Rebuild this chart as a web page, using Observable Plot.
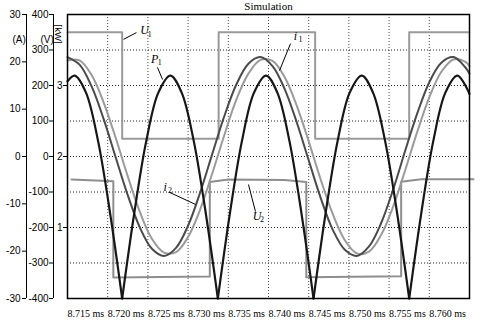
<!DOCTYPE html>
<html><head><meta charset="utf-8">
<script src="https://cdn.jsdelivr.net/npm/d3@7"></script>
<script src="https://cdn.jsdelivr.net/npm/@observablehq/plot@0.6"></script>
<style>body{margin:0;background:#fff} #chart svg{display:block}</style>
</head><body><div id="chart"></div>
<script>
// time grid (ms) for the two currents
const tGrid = [8.715, 8.7165, 8.718, 8.7195, 8.721, 8.7225, 8.724, 8.7255, 8.727, 8.7285,
  8.73, 8.7315, 8.733, 8.7345, 8.736, 8.7375, 8.739, 8.7405, 8.742, 8.7435,
  8.745, 8.7465, 8.748, 8.7495, 8.751, 8.7525, 8.754, 8.7555, 8.757, 8.7585,
  8.76, 8.7615, 8.763, 8.7645, 8.765];
// i1 (A), light gray
const i1Amps = [20.3, 20.3, 17.2, 11.4, 3.9, -4.2, -11.7, -17.4, -20.3, -20.2,
  -17.0, -11.2, -3.6, 4.5, 12.0, 17.5, 20.4, 20.2, 16.8, 10.8,
  3.2, -4.9, -12.2, -17.7, -20.5, -20.1, -16.6, -10.6, -2.9, 5.2,
  12.5, 17.9, 20.5, 20.0, 19.1];
// i2 (A), dark gray
const i2Amps = [21.0, 19.4, 14.8, 7.9, -0.2, -8.2, -15.0, -19.5, -21.0, -19.3,
  -14.6, -7.6, 0.5, 8.5, 15.2, 19.6, 21.0, 19.1, 14.3, 7.3,
  -0.8, -8.8, -15.5, -19.7, -21.0, -19.0, -14.1, -7.0, 1.2, 9.1,
  15.7, 19.8, 21.0, 18.8, 17.5];
// P1 (kW), black, drawn arch by arch
const p1Times = [8.715, 8.7159, 8.7173, 8.7188, 8.7203, 8.7218,
  8.7218, 8.7233, 8.7248, 8.7263, 8.7278, 8.7292, 8.7307, 8.7322, 8.7337,
  8.7337, 8.7352, 8.7367, 8.7382, 8.7397, 8.7411, 8.7426, 8.7441, 8.7456,
  8.7456, 8.7471, 8.7486, 8.7501, 8.7516, 8.7530, 8.7545, 8.7560, 8.7575,
  8.7575, 8.7590, 8.7605, 8.7620, 8.7635, 8.7650];
const p1Kw = [3.06, 3.14, 2.90, 2.22, 1.20, 0,
  0, 1.20, 2.22, 2.90, 3.14, 2.90, 2.22, 1.20, 0,
  0, 1.20, 2.22, 2.90, 3.14, 2.90, 2.22, 1.20, 0,
  0, 1.20, 2.22, 2.90, 3.14, 2.90, 2.22, 1.20, 0,
  0, 1.20, 2.22, 2.90, 3.14, 2.88];
const p1Arch = [0,0,0,0,0,0, 1,1,1,1,1,1,1,1,1, 2,2,2,2,2,2,2,2,2, 3,3,3,3,3,3,3,3,3, 4,4,4,4,4,4];
// U1 (V)
const u1Times = [8.715, 8.7218, 8.7218, 8.7338, 8.7338, 8.7458, 8.7458, 8.7575, 8.7575, 8.765];
const u1Volts = [350, 350, 50, 50, 350, 350, 50, 50, 350, 350];
// U2 (V)
const u2Times = [8.7155, 8.7207, 8.7207, 8.7327, 8.7327, 8.7350, 8.7420, 8.7447, 8.7447, 8.7565, 8.7565, 8.7590, 8.7655];
const u2Volts = [-65, -70, -341, -338, -72, -65, -66, -72, -340, -337, -71, -64, -64];
// ticks
const xTicks = [8.715, 8.72, 8.725, 8.73, 8.735, 8.74, 8.745, 8.75, 8.755, 8.76];
const aTicks = [30, 20, 10, 0, -10, -20, -30];
const vTicks = [400, 300, 200, 100, 0, -100, -200, -300, -400];
const kwTicks = [3, 2, 1];
const gridVolts = [300, 200, 100, 0, -100, -200, -300];
// annotations (t in ms, value in V units)
const labelLetters = ["U", "P", "i", "i", "U"];
const labelSubs = ["1", "1", "1", "2", "2"];
const labelTimes = [8.7246, 8.72585, 8.74336, 8.72714, 8.73858];
const labelValues = [355, 275, 340, -85, -167];
const pointerT1 = [8.72358, 8.72619, 8.74274, 8.72769, 8.73751];
const pointerV1 = [349, 251, 318, -101, -79];
const pointerT2 = [8.72197, 8.72682, 8.74137, 8.73092, 8.73838];
const pointerV2 = [330, 217, 242, -135, -155];

const A2V = a => a * 400 / 30;
const KW2V = k => (k - 2) * 200;
const fmt = n => n < 0 ? "-" + (-n) : String(n);

const i1Data = tGrid.map((t, k) => ({t, v: A2V(i1Amps[k])}));
const i2Data = tGrid.map((t, k) => ({t, v: A2V(i2Amps[k])}));
const p1Data = p1Times.map((t, k) => ({t, v: KW2V(p1Kw[k]), arch: p1Arch[k]}));
const u1Data = u1Times.map((t, k) => ({t, v: u1Volts[k]}));
const u2Data = u2Times.map((t, k) => ({t, v: u2Volts[k]}));
const labels = labelLetters.map((name, k) => ({name, sub: labelSubs[k], t: labelTimes[k], v: labelValues[k]}));
const pointers = pointerT1.map((t1, k) => ({t1, v1: pointerV1[k], t2: pointerT2[k], v2: pointerV2[k]}));

const serif = "Liberation Serif, DejaVu Serif, serif";
const sans = "Liberation Sans, DejaVu Sans, sans-serif";

const chart = Plot.plot({
  width: 485, height: 324,
  marginLeft: 67, marginRight: 16, marginTop: 14, marginBottom: 26,
  x: {domain: [8.715, 8.765], axis: null},
  y: {domain: [-400, 400], axis: null},
  style: {background: "#fff", fontFamily: sans, fontSize: "10px", color: "#000"},
  marks: [
    Plot.ruleY(gridVolts, {stroke: "#222", strokeDasharray: "1,2", strokeWidth: 1}),
    Plot.ruleX(xTicks.slice(1), {stroke: "#444", strokeDasharray: "1,2", strokeWidth: 1}),
    Plot.line(u1Data, {x: "t", y: "v", stroke: "#9a9a9a", strokeWidth: 2}),
    Plot.line(u2Data, {x: "t", y: "v", stroke: "#8e8e8e", strokeWidth: 2}),
    Plot.line(i1Data, {x: "t", y: "v", stroke: "#9a9a9a", strokeWidth: 2, curve: "catmull-rom"}),
    Plot.line(i2Data, {x: "t", y: "v", stroke: "#4a4a4a", strokeWidth: 2, curve: "catmull-rom"}),
    Plot.line(p1Data, {x: "t", y: "v", z: "arch", stroke: "#161616", strokeWidth: 2.2, curve: "catmull-rom"}),
    Plot.frame({stroke: "#000", strokeWidth: 1.5}),
    // x axis labels
    Plot.axisX(xTicks, {anchor: "bottom", tickSize: 0, tickPadding: 11, textAnchor: "start", dx: 0,
      tickFormat: d => d.toFixed(3) + " ms", fontFamily: serif, fontSize: 10, label: null}),
    // kW axis
    Plot.axisY(kwTicks.map(KW2V), {anchor: "left", tickSize: 4, tickPadding: 1,
      tickFormat: v => String(v / 200 + 2), fontSize: 10, label: null}),
    // V axis
    Plot.ruleX([8.715], {dx: -14, stroke: "#000", strokeWidth: 1}),
    Plot.axisY(vTicks, {anchor: "left", dx: -14, tickSize: 4, tickPadding: 1,
      tickFormat: v => fmt(v), fontSize: 10, label: null}),
    // A axis
    Plot.ruleX([8.715], {dx: -41, stroke: "#000", strokeWidth: 1}),
    Plot.axisY(aTicks.map(A2V), {anchor: "left", dx: -41, tickSize: 4, tickPadding: 2,
      tickFormat: v => fmt(Math.round(v * 30 / 400)), fontSize: 10, label: null}),
    // unit labels
    Plot.text(["(A)"], {frameAnchor: "top-left", dx: -55, dy: 21, text: d => d, fontSize: 10}),
    Plot.text(["(V)"], {frameAnchor: "top-left", dx: -27, dy: 21, text: d => d, fontSize: 10}),
    Plot.text(["[kW]"], {frameAnchor: "top-left", dx: -6, dy: 10, rotate: 90, text: d => d, fontSize: 9.5}),
    // title
    Plot.text(["Simulation"], {frameAnchor: "top", dy: -12, text: d => d, fontFamily: serif, fontSize: 11, fontWeight: "normal"}),
    // annotations
    Plot.link(pointers, {x1: "t1", y1: "v1", x2: "t2", y2: "v2", stroke: "#000", strokeWidth: 1}),
    Plot.text(labels, {x: "t", y: "v", text: "name", fontFamily: serif, fontStyle: "italic", fontSize: 12, fill: "#000"}),
    Plot.text(labels, {x: "t", y: "v", text: "sub", dx: 5, dy: 4, fontFamily: serif, fontSize: 8, fill: "#000"})
  ]
});
document.getElementById("chart").append(chart);
</script></body></html>
